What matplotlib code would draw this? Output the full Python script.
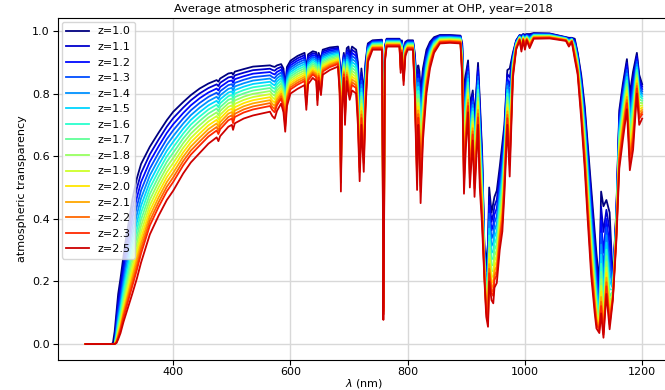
import matplotlib
matplotlib.use('Agg')
import matplotlib.pyplot as plt
import numpy as np

# airmasses shown in the legend (2.4 is not in the original figure)
airmass = [1.0, 1.1, 1.2, 1.3, 1.4, 1.5, 1.6, 1.7, 1.8, 1.9, 2.0, 2.1, 2.2, 2.3, 2.5]

# wavelength grid (nm) and transparency for the
# lowest (z=1.0) and highest (z=2.5) airmass curves
wavelength = [250, 294, 297, 300, 303, 306, 310, 315, 320, 325, 330, 338, 345, 360, 375,
              389, 400, 417, 430, 445, 460, 474, 477, 480, 494, 500, 502, 505, 520, 536,
              565, 569, 573, 577, 584, 588, 591, 594, 600, 612, 624, 627, 630, 638, 644,
              646, 648, 652, 655, 667, 681, 684, 686, 688, 691, 693, 696, 699, 701, 705,
              712, 715, 718, 721, 725, 728, 732, 740, 756, 757.5, 758.5, 759.5, 761, 764, 786,
              788, 790, 793, 796, 800, 809, 812, 816, 818, 820, 822, 826, 832, 838, 845,
              855, 872, 890, 893, 896, 899, 903, 906, 911, 914, 920, 923, 927, 931, 934,
              937, 939, 943, 946, 948, 952, 957, 961.5, 965, 970, 974, 979.5, 985, 991, 994,
              997, 1000, 1003, 1008, 1015, 1042, 1070, 1075, 1080, 1085, 1090, 1096, 1102, 1107, 1113,
              1119, 1122, 1127, 1130, 1134, 1139, 1144.5, 1150, 1156, 1161, 1167, 1174, 1179, 1184.5, 1191,
              1195, 1200]

trans_z10 = [0, 0, 0.003, 0.04, 0.10, 0.16, 0.21, 0.28, 0.345, 0.40, 0.46, 0.53, 0.575, 0.63, 0.675,
             0.715, 0.742, 0.773, 0.795, 0.816, 0.832, 0.843, 0.838, 0.848, 0.864, 0.866, 0.86, 0.87, 0.878, 0.886,
             0.89, 0.887, 0.885, 0.89, 0.894, 0.88, 0.82, 0.885, 0.905, 0.92, 0.93, 0.875, 0.925, 0.935, 0.932,
             0.89, 0.93, 0.91, 0.94, 0.947, 0.95, 0.90, 0.75, 0.88, 0.93, 0.86, 0.945, 0.95, 0.92, 0.95,
             0.94, 0.90, 0.78, 0.88, 0.80, 0.90, 0.96, 0.97, 0.972, 0.75, 0.35, 0.62, 0.95, 0.975, 0.975,
             0.95, 0.97, 0.93, 0.965, 0.97, 0.97, 0.93, 0.82, 0.89, 0.87, 0.80, 0.88, 0.94, 0.965, 0.98,
             0.987, 0.987, 0.985, 0.96, 0.80, 0.86, 0.906, 0.76, 0.81, 0.72, 0.898, 0.78, 0.61, 0.30, 0.27,
             0.32, 0.50, 0.42, 0.45, 0.47, 0.49, 0.566, 0.64, 0.70, 0.875, 0.88, 0.93, 0.97, 0.987, 0.985,
             0.99, 0.988, 0.99, 0.99, 0.993, 0.992, 0.98, 0.978, 0.978, 0.975, 0.93, 0.86, 0.76, 0.64, 0.50,
             0.36, 0.29, 0.195, 0.487, 0.44, 0.46, 0.42, 0.20, 0.43, 0.747, 0.83, 0.91, 0.80, 0.87, 0.93,
             0.86, 0.83]

trans_z25 = [0, 0, 0, 0, 0.003, 0.015, 0.035, 0.07, 0.10, 0.13, 0.16, 0.21, 0.26, 0.35, 0.41,
             0.46, 0.49, 0.545, 0.58, 0.61, 0.64, 0.66, 0.648, 0.664, 0.694, 0.70, 0.684, 0.705, 0.72, 0.73,
             0.742, 0.728, 0.72, 0.745, 0.768, 0.74, 0.678, 0.76, 0.80, 0.815, 0.827, 0.748, 0.83, 0.85, 0.84,
             0.763, 0.84, 0.795, 0.86, 0.875, 0.886, 0.80, 0.487, 0.75, 0.85, 0.70, 0.84, 0.80, 0.78, 0.81,
             0.80, 0.70, 0.52, 0.70, 0.55, 0.75, 0.90, 0.94, 0.94, 0.50, 0.077, 0.30, 0.90, 0.95, 0.95,
             0.866, 0.93, 0.827, 0.92, 0.94, 0.94, 0.80, 0.492, 0.70, 0.63, 0.45, 0.65, 0.80, 0.88, 0.93,
             0.96, 0.962, 0.96, 0.85, 0.48, 0.62, 0.74, 0.50, 0.65, 0.47, 0.70, 0.50, 0.374, 0.20, 0.087,
             0.055, 0.20, 0.14, 0.13, 0.18, 0.195, 0.30, 0.36, 0.48, 0.70, 0.535, 0.85, 0.94, 0.97, 0.934,
             0.97, 0.94, 0.97, 0.945, 0.975, 0.976, 0.968, 0.95, 0.965, 0.91, 0.86, 0.72, 0.56, 0.40, 0.22,
             0.10, 0.05, 0.035, 0.098, 0.02, 0.16, 0.047, 0.14, 0.33, 0.56, 0.65, 0.75, 0.555, 0.62, 0.80,
             0.70, 0.72]

wl = np.array(wavelength)
t_lo = np.array(trans_z10)
t_hi = np.array(trans_z25)

fig = plt.figure(figsize=(6.65, 3.9), dpi=100)
ax = fig.add_axes([0.0865, 0.078, 0.921, 0.877])

cmap = plt.get_cmap('jet')
n = len(airmass)
for i, z in enumerate(airmass):
    # optical depth scales linearly with airmass between the two read curves
    f = (z - airmass[0]) / (airmass[-1] - airmass[0])
    trans = t_lo ** (1 - f) * t_hi ** f
    ax.plot(wl, trans, color=cmap(i / n), lw=1.3, label='z=%.1f' % z)

ax.set_title('Average atmospheric transparency in summer at OHP, year=2018', fontsize=8.2, pad=4)
ax.set_xlabel(r'$\lambda$ (nm)', fontsize=8, labelpad=0)
ax.set_ylabel('atmospheric transparency', fontsize=8)
ax.tick_params(labelsize=8, pad=2)
ax.set_xticks([400, 600, 800, 1000, 1200])
ax.set_yticks([0.0, 0.2, 0.4, 0.6, 0.8, 1.0])
ax.set_xlim(202.5, 1247.5)
ax.set_ylim(-0.0497, 1.0427)
ax.grid(True, color='#d8d8d8', lw=1.0)
ax.set_axisbelow(True)
ax.legend(loc='upper left', fontsize=8, borderaxespad=0.4)

plt.savefig('out.png', dpi=100)
